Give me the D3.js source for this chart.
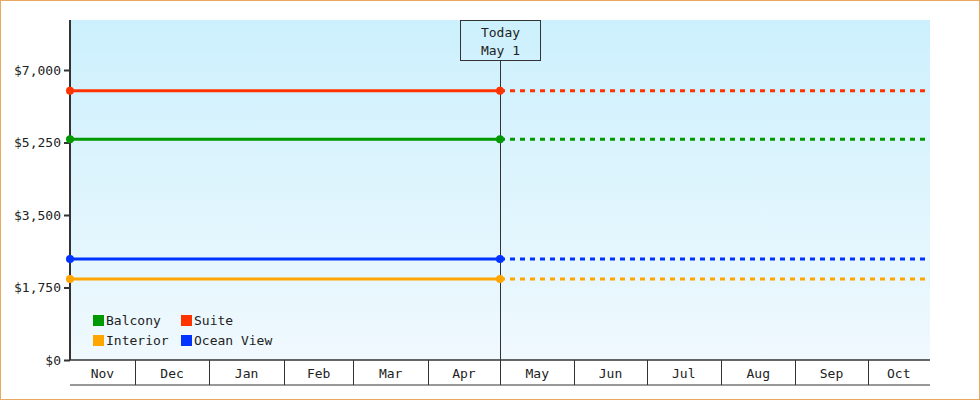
<!DOCTYPE html><html><head><meta charset="utf-8">
<script src="https://cdn.jsdelivr.net/npm/d3@7"></script>
<style>body{margin:0}svg{display:block}text{font-family:"DejaVu Sans Mono",monospace;font-size:13px;fill:#222}</style>
</head><body><svg width="980" height="400"></svg><script>
const seriesNames=["Balcony","Suite","Interior","Ocean View"];
const seriesColors=["#009900","#ff3300","#ffa500","#0033ff"];
const seriesValues=[5330,6500,1955,2440];
const yTicks=[0,1750,3500,5250,7000];
const monthLabels=["Nov","Dec","Jan","Feb","Mar","Apr","May","Jun","Jul","Aug","Sep","Oct"];
const startDate=new Date(2023,10,4), todayDate=new Date(2024,4,1), endDate=new Date(2024,9,27);
const svg=d3.select("svg");
const L=70,R=930,T=20,B=360;
svg.append("rect").attr("x",0.5).attr("y",0.5).attr("width",979).attr("height",399).attr("fill","#fff").attr("stroke","#e8a860");
const g=svg.append("defs").append("linearGradient").attr("id","bg").attr("x1",0).attr("x2",0).attr("y1",0).attr("y2",1);
g.append("stop").attr("offset","0").attr("stop-color","#ccf0fd");
g.append("stop").attr("offset","1").attr("stop-color","#f0f9fe");
svg.append("rect").attr("x",L).attr("y",T).attr("width",R-L).attr("height",B-T).attr("fill","url(#bg)");
const x=d3.scaleTime().domain([startDate,endDate]).range([L,R]);
const y=d3.scaleLinear().domain([0,8207]).range([B,T]);
// y axis
const ya=svg.append("g").attr("transform",`translate(${L},0)`).call(d3.axisLeft(y).tickValues(yTicks).tickFormat(d=>"$"+d3.format(",")(d)).tickSize(6).tickPadding(3));
ya.select(".domain").remove();
ya.selectAll("line").attr("stroke","#333").attr("stroke-width",2);
ya.selectAll("text").style("font-family","DejaVu Sans Mono").style("font-size","13px").attr("fill","#222");
svg.append("line").attr("x1",L).attr("x2",L).attr("y1",T).attr("y2",B).attr("stroke","#333").attr("stroke-width",2);
// x axis band
const months=d3.timeMonth.range(d3.timeMonth.ceil(startDate),endDate);
const bounds=[startDate,...months,endDate];
svg.append("line").attr("x1",L).attr("x2",R).attr("y1",B).attr("y2",B).attr("stroke","#333").attr("stroke-width",1.5);
svg.append("line").attr("x1",L).attr("x2",R).attr("y1",385).attr("y2",385).attr("stroke","#333");
svg.selectAll(".sep").data(months).join("line").attr("x1",d=>Math.round(x(d))+0.5).attr("x2",d=>Math.round(x(d))+0.5).attr("y1",B).attr("y2",385).attr("stroke","#333");
svg.selectAll(".ml").data(monthLabels).join("text").attr("x",(d,i)=>(x(bounds[i])+x(bounds[i+1]))/2).attr("y",378).attr("text-anchor","middle").text(d=>d);
// today line
const tx=Math.round(x(todayDate))+0.5;
svg.append("line").attr("x1",tx).attr("x2",tx).attr("y1",61).attr("y2",B).attr("stroke","#333");
svg.append("rect").attr("x",tx-40).attr("y",20.5).attr("width",80).attr("height",40).attr("fill","none").attr("stroke","#333");
svg.append("text").attr("x",tx).attr("y",37).attr("text-anchor","middle").text("Today");
svg.append("text").attr("x",tx).attr("y",55).attr("text-anchor","middle").text("May 1");
// series
seriesValues.forEach((v,i)=>{
  const c=seriesColors[i];
  svg.append("line").attr("x1",x(startDate)).attr("x2",x(todayDate)).attr("y1",y(v)).attr("y2",y(v)).attr("stroke",c).attr("stroke-width",3);
  svg.append("line").attr("x1",x(todayDate)).attr("x2",x(endDate)).attr("y1",y(v)).attr("y2",y(v)).attr("stroke",c).attr("stroke-width",3).attr("stroke-dasharray","5,5");
  [startDate,todayDate].forEach(d=>svg.append("circle").attr("cx",x(d)).attr("cy",y(v)).attr("r",4).attr("fill",c));
});
// legend
const lg=[[0,92,320],[1,180,320],[2,92,340],[3,180,340]];
lg.forEach(([i,lx,ly])=>{
  svg.append("rect").attr("x",lx+1).attr("y",ly-5).attr("width",11).attr("height",11).attr("fill",seriesColors[i]);
  svg.append("text").attr("x",lx+14).attr("y",ly+5).text(seriesNames[i]);
});
</script></body></html>
